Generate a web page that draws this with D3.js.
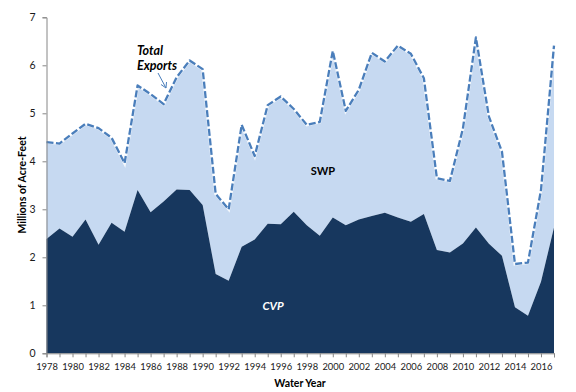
<!DOCTYPE html>
<html><head><meta charset="utf-8">
<script src="https://cdn.jsdelivr.net/npm/d3@7"></script>
<style>body{margin:0;background:#fff}svg{display:block}</style>
</head><body>
<svg id="c" width="576" height="392"></svg>
<script>
const years = d3.range(1978, 2018);
const cvp = [2.38,2.60,2.43,2.79,2.26,2.72,2.53,3.40,2.94,3.16,3.41,3.40,3.09,1.65,1.51,2.22,2.37,2.70,2.69,2.95,2.67,2.45,2.83,2.67,2.79,2.86,2.93,2.83,2.74,2.90,2.15,2.10,2.29,2.62,2.28,2.03,0.96,0.78,1.49,2.62];
const total = [4.40,4.37,4.58,4.78,4.69,4.49,3.96,5.58,5.40,5.19,5.75,6.10,5.92,3.32,3.00,4.76,4.11,5.17,5.35,5.09,4.76,4.82,6.30,5.05,5.49,6.26,6.08,6.41,6.24,5.73,3.65,3.59,4.68,6.58,4.93,4.20,1.86,1.89,3.40,6.41];
const yTicks = [0,1,2,3,4,5,6,7];
const xLabelYears = d3.range(1978, 2018, 2);

const svg = d3.select("#c");
const x = d3.scaleLinear().domain([1978, 2017]).range([46.5, 554]);
const y = d3.scaleLinear().domain([0, 7]).range([353.3, 17.3]);

const data = years.map((yr, i) => ({yr, cvp: cvp[i], total: total[i]}));

svg.append("path").datum(data)
  .attr("d", d3.area().x(d => x(d.yr)).y0(d => y(d.cvp)).y1(d => y(d.total)))
  .attr("fill", "#C6D9F1");
svg.append("path").datum(data)
  .attr("d", d3.area().x(d => x(d.yr)).y0(y(0)).y1(d => y(d.cvp)))
  .attr("fill", "#17375E");

const line = d3.line().x(d => x(d.yr)).y(d => y(d.total));
svg.append("path").datum(data).attr("d", line)
  .attr("fill", "none").attr("stroke", "#ffffff").attr("stroke-width", 3).attr("stroke-opacity", 0.8);
svg.append("path").datum(data).attr("d", line)
  .attr("fill", "none").attr("stroke", "#4A7EBB").attr("stroke-width", 2.3)
  .attr("stroke-dasharray", "7,2.5").attr("stroke-linejoin", "round");

// axes
const yAxis = svg.append("g").attr("transform", "translate(46.5,0)")
  .call(d3.axisLeft(y).tickValues(yTicks).tickSize(4).tickPadding(7).tickFormat(d3.format("d")));
const xAxis = svg.append("g").attr("transform", `translate(0,${y(0)})`)
  .call(d3.axisBottom(x).tickValues(years).tickSize(4).tickPadding(6)
    .tickFormat(d => xLabelYears.includes(d) ? String(d) : ""));
[yAxis, xAxis].forEach(g => {
  g.select(".domain").attr("stroke", "#868686");
  g.selectAll(".tick line").attr("stroke", "#868686");
  g.selectAll("text").attr("font-family", "Lato, 'Open Sans', sans-serif").attr("font-size", 9.4).attr("fill", "#1a1a1a");
});
yAxis.selectAll("text").attr("font-size", 10.5);

svg.append("text").attr("transform", "translate(26,185) rotate(-90)")
  .attr("text-anchor", "middle").attr("font-family", "Lato, sans-serif")
  .attr("font-weight", "bold").attr("font-size", 10.5).text("Millions of Acre-Feet");
svg.append("text").attr("x", 300).attr("y", 387)
  .attr("text-anchor", "middle").attr("font-family", "Lato, sans-serif")
  .attr("font-weight", "bold").attr("font-size", 10.5).text("Water Year");

svg.append("text").attr("x", 323).attr("y", 175)
  .attr("text-anchor", "middle").attr("font-family", "Lato, sans-serif")
  .attr("font-weight", "bold").attr("font-size", 11).text("SWP");
svg.append("text").attr("x", 273).attr("y", 310)
  .attr("text-anchor", "middle").attr("font-family", "Lato, sans-serif")
  .attr("font-weight", "bold").attr("font-style", "italic").attr("font-size", 11.5)
  .attr("fill", "#fff").text("CVP");

const lab = svg.append("text").attr("font-family", "Lato, sans-serif")
  .attr("font-weight", "bold").attr("font-style", "italic").attr("font-size", 12.5);
lab.append("tspan").attr("x", 137).attr("y", 55).text("Total");
lab.append("tspan").attr("x", 137).attr("y", 70).text("Exports");

// arrow
svg.append("line").attr("x1", 158).attr("y1", 73).attr("x2", 166).attr("y2", 88)
  .attr("stroke", "#4A7EBB").attr("stroke-width", 1);
svg.append("path").attr("d", "M161,84.5 L166,88 L166.5,82")
  .attr("fill", "none").attr("stroke", "#4A7EBB").attr("stroke-width", 1);
</script>
</body></html>
